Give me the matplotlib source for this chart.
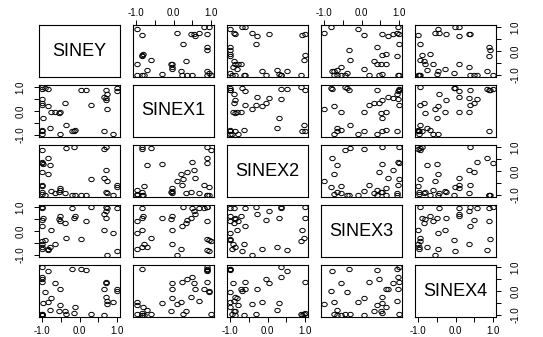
import numpy as np
import matplotlib
matplotlib.use("Agg")
import matplotlib.pyplot as plt
from matplotlib.path import Path
from matplotlib.transforms import Affine2D

names = ["SINEY", "SINEX1", "SINEX2", "SINEX3", "SINEX4"]

siney = [0.90, 0.66, 0.73, 0.70, 0.70, 0.73, 0.70, 1.00, 1.00, 0.30, 0.16, 0.05,
         -0.12, -0.16, -0.37, -0.52, -0.54, -0.66, -0.76, -0.40, -0.80, -0.83,
         -1.00, -1.00, -1.00, -0.97, -1.00, -1.00, -1.00, -0.83, -0.92, -1.00,
         -1.00, 0.64, -0.52, -0.19]
sinex1 = [-0.97, -0.84, 0.10, 0.47, 0.55, 0.69, 0.88, 0.95, 0.82, 0.26, 0.88, 0.88,
          -0.81, -0.83, -0.60, -0.97, -0.07, -0.05, -0.05, 0.32, -0.71, 0.20,
          -0.97, -0.84, -0.78, -0.30, 0.23, 0.35, 0.48, 0.90, 0.95, 0.90,
          1.00, 0.58, -0.05, -0.83]
sinex2 = [-0.99, 0.93, -0.41, -0.86, 0.04, -0.90, 0.99, -0.68, -0.59, -0.32, -0.99, -0.99,
          -0.99, 1.00, 0.97, -0.79, -0.86, -0.92, -0.82, -0.90, 0.26, -0.14,
          -0.95, -0.86, -0.63, 0.30, -0.59, -0.05, 0.37, 0.53, -0.99, 0.35,
          0.88, -0.29, -0.72, -0.99]
sinex3 = [-0.10, 0.06, -1.00, 0.55, 0.85, 0.94, 1.00, -0.81, 0.96, 1.00, 0.42, -0.34,
          0.64, 0.55, -0.31, 0.42, 0.51, -0.56, 0.06, 0.33, -0.65, -0.74,
          -0.74, -0.65, -0.56, 0.55, 0.19, 0.46, 0.96, -0.78, -0.38, 1.00,
          -0.43, 0.70, 0.64, 0.95]
sinex4 = [-0.47, -0.99, -0.54, -0.25, 0.35, -0.43, 0.39, -0.01, 0.08, -0.96, 0.88, 0.92,
          -0.68, -0.90, -0.95, -0.59, -0.81, 0.35, -0.28, -0.85, -0.77, -0.46,
          -0.97, -0.98, -1.00, -0.50, 0.39, 0.48, 0.57, 0.84, -0.05, 1.00,
          -0.96, 0.08, 0.08, 0.90]

data = [siney, sinex1, sinex2, sinex3, sinex4]
tick_vals = [-1.0, -0.5, 0.0, 0.5, 1.0]
tick_labels = ["-1.0", "", "0.0", "", "1.0"]

plt.rcParams['font.family'] = ['Liberation Sans', 'DejaVu Sans']

W, H = 543, 337
fig = plt.figure(figsize=(W / 100, H / 100), dpi=100)

col_left = [39, 133, 227, 321, 415]
row_top = [25, 85, 145, 205, 265]
pw, ph = 81, 52

circ = Path.unit_circle()
ell = Path(Affine2D().scale(1.25, 1.0).transform(circ.vertices), circ.codes)

lim = (-1.08, 1.08)
n = len(names)
for i in range(n):
    for j in range(n):
        ax = fig.add_axes([col_left[j] / W, 1 - (row_top[i] + ph) / H, pw / W, ph / H])
        ax.set_xlim(lim)
        ax.set_ylim(lim)
        for s in ax.spines.values():
            s.set_linewidth(0.8)
        ax.set_xticks([])
        ax.set_yticks([])
        if i == j:
            ax.text(0, 0, names[i], ha='center', va='center', fontsize=13)
        else:
            ax.plot(data[j], data[i], linestyle='none', marker=ell, markersize=3.9,
                    markerfacecolor='none', markeredgecolor='black', markeredgewidth=0.7)
        # x axes
        if i == 0 and j % 2 == 1:
            ax.xaxis.set_ticks_position('top')
            ax.set_xticks(tick_vals)
            ax.set_xticklabels(tick_labels)
            ax.tick_params(axis='x', top=True, bottom=False, labeltop=True, labelbottom=False,
                           length=3.5, width=0.7, pad=1.5, labelsize=7, direction='out')
        if i == n - 1 and j % 2 == 0:
            ax.set_xticks(tick_vals)
            ax.set_xticklabels(tick_labels)
            ax.tick_params(axis='x', length=3.5, width=0.7, pad=3, labelsize=7, direction='out')
        # y axes
        if j == 0 and i % 2 == 1:
            ax.set_yticks(tick_vals)
            ax.set_yticklabels(tick_labels, rotation=90, va='center')
            ax.tick_params(axis='y', length=3.5, width=0.7, pad=6, labelsize=7, direction='out')
        if j == n - 1 and i % 2 == 0:
            ax.yaxis.set_ticks_position('right')
            ax.set_yticks(tick_vals)
            ax.set_yticklabels(tick_labels, rotation=90, va='center')
            ax.tick_params(axis='y', right=True, left=False, labelright=True, labelleft=False,
                           length=3.5, width=0.7, pad=7, labelsize=7, direction='out')

fig.savefig("out.png", dpi=100)
